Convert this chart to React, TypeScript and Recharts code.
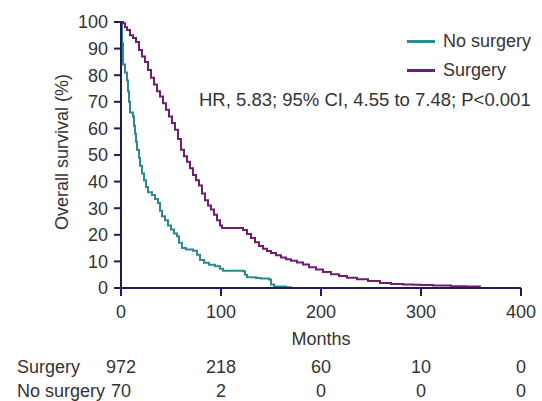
import { LineChart, Line, XAxis, YAxis, Legend, Label } from "recharts";

const surgeryMonths = [
  0, 2, 4, 6, 9, 12, 15, 18, 21, 24, 27, 30, 33, 36, 39, 42, 45, 48, 51, 54, 57, 60, 63, 66, 69, 72, 75, 78,
  81, 84, 87, 90, 93, 96, 99, 101, 119, 122, 126, 130, 134, 138, 142, 146, 150, 155, 160, 165, 170, 176, 182,
  188, 195, 202, 210, 218, 226, 236, 247, 259, 270, 282, 292, 300, 312, 330, 345, 359,
];
const surgerySurvival = [
  100, 99.5, 98, 97, 95, 94, 92.5, 89.5, 87, 85, 82, 79, 76.5, 74, 72, 69.5, 67, 64.5, 62, 59.5, 56, 52, 49.5,
  47.5, 45, 42.5, 40.5, 38.5, 35.5, 33, 31, 29.5, 27.5, 25.5, 23.5, 22.6, 22.6, 21.8, 20.3, 18.8, 17.2, 15.8,
  14.8, 13.9, 13.2, 12.3, 11.5, 10.8, 10.2, 9.6, 8.8, 7.8, 7, 6, 5.2, 4.5, 3.9, 3.3, 2.6, 1.9, 1.5, 1.3, 1.2,
  1.1, 0.9, 0.7, 0.6, 0.5,
];

const noSurgeryMonths = [
  0, 1, 2, 4, 6, 7, 8, 9, 12, 13, 14, 15, 16, 18, 19, 21, 23, 25, 27, 31, 34, 37, 39, 41, 44, 47, 50, 53, 56,
  58, 61, 65, 72, 76, 79, 83, 88, 94, 99, 102, 122, 124, 126, 135, 140, 148, 150, 153, 165, 170, 200,
];
const noSurgerySurvival = [
  100, 92, 84, 81, 78, 74, 70, 66, 64.5, 61, 58, 55, 52, 49, 46, 43, 40.5, 38, 36, 35, 33.5, 32, 29, 27, 25.5,
  23.5, 22, 20.5, 19.5, 17, 15, 14.5, 14, 12.5, 10.5, 9.5, 8.7, 8.2, 7.2, 6.5, 6.3, 5, 4, 3.8, 3.6, 3.2, 1.3,
  0.6, 0.3, 0, 0,
];

const xTicks = [0, 100, 200, 300, 400];
const yTicks = [0, 10, 20, 30, 40, 50, 60, 70, 80, 90, 100];
const surgeryAtRisk = [972, 218, 60, 10, 0];
const noSurgeryAtRisk = [70, 2, 0, 0, 0];
const hrText = "HR, 5.83; 95% CI, 4.55 to 7.48; P<0.001";

const surgeryData = surgeryMonths.map((m, i) => ({ month: m, survival: surgerySurvival[i] }));
const noSurgeryData = noSurgeryMonths.map((m, i) => ({ month: m, survival: noSurgerySurvival[i] }));

const AXIS = "#1b1b5e";
const TEXT = "#333333";
const TEAL = "#2a8a8f";
const PURPLE = "#6e1f70";
const FONT = "'Liberation Sans', Arial, Helvetica, sans-serif";

const LegendBox = ({ payload }: any) => (
  <div style={{ position: "relative", width: 542, height: 120, fontFamily: FONT, color: TEXT }}>
    {(payload || []).map((p: any, i: number) => (
      <div
        key={p.value}
        style={{ position: "absolute", left: 407, top: 30 + i * 29, height: 22, display: "flex", alignItems: "center" }}
      >
        <div style={{ width: 28, height: 3, background: p.color }} />
        <span style={{ marginLeft: 8, fontSize: 18 }}>{p.value}</span>
      </div>
    ))}
    <div style={{ position: "absolute", left: 199, top: 89, fontSize: 18.5, whiteSpace: "nowrap" }}>{hrText}</div>
  </div>
);

// month tick plus the numbers-at-risk rows under it
const MonthTick = (props: any) => {
  const { x, y, payload } = props;
  const i = xTicks.indexOf(payload.value);
  const common = { textAnchor: "middle" as const, dominantBaseline: "central" as const, fill: TEXT, fontFamily: FONT };
  return (
    <g>
      <text x={x} y={y + 6} fontSize={18} {...common}>
        {payload.value}
      </text>
      <text x={x} y={y + 61} fontSize={18} {...common}>
        {surgeryAtRisk[i]}
      </text>
      <text x={x} y={y + 85} fontSize={18} {...common}>
        {noSurgeryAtRisk[i]}
      </text>
    </g>
  );
};

const BottomLabels = (props: any) => {
  const top = props.viewBox?.y ?? 288;
  const common = { dominantBaseline: "central" as const, fill: TEXT, fontFamily: FONT, fontSize: 18 };
  return (
    <g>
      <text x={321} y={top + 51} textAnchor="middle" {...common}>
        Months
      </text>
      <text x={17} y={top + 79} {...common}>
        Surgery
      </text>
      <text x={17} y={top + 103} {...common}>
        No surgery
      </text>
    </g>
  );
};

export default function App() {
  return (
    <div style={{ position: "absolute", left: 0, top: 0, width: 542, height: 401, background: "#fff" }}>
      <LineChart width={542} height={401} margin={{ top: 22, right: 21, bottom: 5, left: 51 }}>
        <XAxis
          dataKey="month"
          type="number"
          domain={[0, 400]}
          ticks={xTicks}
          height={108}
          stroke={AXIS}
          strokeWidth={2}
          tickSize={8}
          tickMargin={10}
          tick={<MonthTick />}
        >
          <Label content={BottomLabels} />
        </XAxis>
        <YAxis
          type="number"
          domain={[0, 100]}
          ticks={yTicks}
          width={70}
          stroke={AXIS}
          strokeWidth={2}
          tickSize={7}
          tickMargin={6}
          tick={{ fill: TEXT, fontSize: 18, fontFamily: FONT }}
          interval={0}
        >
          <Label
            content={() => (
              <text
                x={62}
                y={152}
                transform="rotate(-90, 62, 152)"
                textAnchor="middle"
                dominantBaseline="central"
                fill={TEXT}
                fontSize={18}
                fontFamily={FONT}
              >
                Overall survival (%)
              </text>
            )}
          />
        </YAxis>
        <Legend
          layout="horizontal"
          verticalAlign="middle"
          content={<LegendBox />}
          wrapperStyle={{ position: "absolute", left: 0, top: 0, width: 542, height: 120 }}
        />
        <Line
          data={noSurgeryData}
          dataKey="survival"
          name="No surgery"
          type="stepAfter"
          stroke={TEAL}
          strokeWidth={2}
          dot={false}
          isAnimationActive={false}
        />
        <Line
          data={surgeryData}
          dataKey="survival"
          name="Surgery"
          type="stepAfter"
          stroke={PURPLE}
          strokeWidth={2}
          dot={false}
          isAnimationActive={false}
        />
      </LineChart>
    </div>
  );
}
